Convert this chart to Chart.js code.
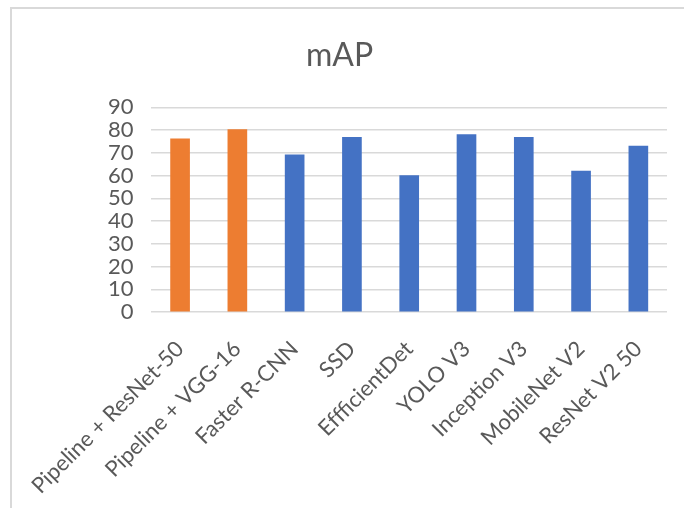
<!DOCTYPE html>
<html>
<head>
<meta charset="utf-8">
<script src="https://cdn.jsdelivr.net/npm/chart.js@4.4.0/dist/chart.umd.min.js"></script>
<style>
  html, body { margin: 0; padding: 0; background: #fff; overflow: hidden; }
  #frame {
    position: absolute; left: 10px; top: 7px;
    width: 690px; height: 510px;
    border-left: 2px solid #d9d9d9; border-top: 2px solid #d9d9d9;
  }
  #wrap { position: absolute; left: 0; top: 0; width: 680px; height: 499px; }
</style>
</head>
<body>
<div id="frame"><div id="wrap"><canvas id="mapChart"></canvas></div></div>
<script>
// models on the x axis
const models = ['Pipeline + ResNet-50', 'Pipeline + VGG-16', 'Faster R-CNN', 'SSD', 'EffficientDet',
                'YOLO V3', 'Inception V3', 'MobileNet V2', 'ResNet V2 50'];
// mAP values
const mapValues = [76.2, 80.2, 69.1, 76.8, 60, 78, 76.8, 62, 73];
// y ticks
const yTicks = [0, 10, 20, 30, 40, 50, 60, 70, 80, 90];

const FONT = 'Lato, "Open Sans", sans-serif';
const GREY = '#595959';

const ctx = document.getElementById('mapChart').getContext('2d');
new Chart(ctx, {
    type: 'bar',
    data: {
        labels: models,
        datasets: [{
            label: 'mAP',
            data: mapValues,
            // our pipelines in orange, the rest in blue
            backgroundColor: c => models[c.dataIndex].startsWith('Pipeline') ? '#ed7d31' : '#4472c4',
            barThickness: 19
        }]
    },
    options: {
        responsive: true,
        maintainAspectRatio: false,
        animation: false,
        layout: { padding: { left: 0, right: 25, top: 0, bottom: 0 } },
        plugins: {
            legend: { display: false },
            tooltip: { enabled: false },
            title: {
                display: true,
                text: 'mAP',
                color: GREY,
                font: { family: FONT, size: 32, weight: 'normal' },
                padding: { top: 27, bottom: 33 }
            }
        },
        scales: {
            y: {
                min: yTicks[0],
                max: yTicks[yTicks.length - 1],
                afterBuildTicks: s => { s.ticks = yTicks.map(v => ({ value: v })); },
                afterFit: s => { s.width = 138; },
                border: { display: false },
                grid: { color: '#d9d9d9', lineWidth: 1.5, drawTicks: false },
                ticks: { color: GREY, padding: 18, autoSkip: false, font: { family: FONT, size: 22 } }
            },
            x: {
                afterFit: s => { s.height = 196; },
                border: { display: false },
                grid: { display: false },
                ticks: {
                    color: GREY, minRotation: 45, maxRotation: 45, autoSkip: false,
                    padding: 16, font: { family: FONT, size: 22 }
                }
            }
        }
    }
});
</script>
</body>
</html>
